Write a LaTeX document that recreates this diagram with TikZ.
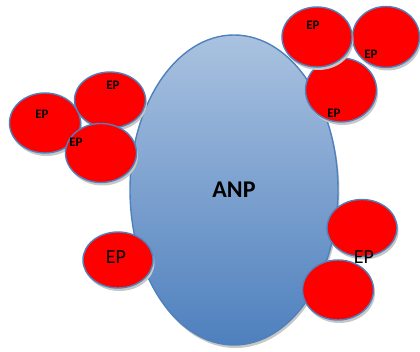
\documentclass[tikz,border=0pt]{standalone}
\usepackage{fontspec}
\setsansfont{Carlito}
\usetikzlibrary{shapes.geometric,shadows}
\definecolor{epblue}{RGB}{79,129,189}
\definecolor{anptop}{RGB}{170,194,224}
\definecolor{anpbot}{RGB}{78,128,190}
\begin{document}
\begin{tikzpicture}[x=1pt,y=-1pt,
        ep/.style={ellipse, draw=epblue, line width=1.4pt, fill=red, inner sep=0pt,
            drop shadow={shadow xshift=1.5pt, shadow yshift=-3pt, fill=black!22, opacity=1}},
        anp/.style={ellipse, draw=epblue, line width=1.4pt, inner sep=0pt,
            top color=anptop, bottom color=anpbot,
            drop shadow={shadow xshift=1.5pt, shadow yshift=-3pt, fill=black!22, opacity=1}},
        epbold/.style={font=\sffamily\bfseries\fontsize{13}{13}\selectfont, inner sep=0pt},
        epplain/.style={font=\sffamily\fontsize{20}{20}\selectfont, inner sep=0pt},
    ]
    \useasboundingbox (0,0) rectangle (420,352);
    \node[anp, minimum width=208pt, minimum height=310pt] (anp) at (234,190) {};
    \node[font=\sffamily\bfseries\fontsize{24}{24}\selectfont, inner sep=0pt] (anpt) at (234,190) {ANP};

    % left group
    \node[ep, minimum width=71pt, minimum height=60pt] (ep_a) at (45,123) {};
    \node[ep, minimum width=71pt, minimum height=56pt] (ep_b) at (110,100) {};
    \node[ep, minimum width=71pt, minimum height=59pt] (ep_c) at (101,153) {};
    \node[epbold] (t_a) at (42,114) {EP};
    \node[epbold] (t_b) at (113,85) {EP};
    \node[epbold] (t_c) at (76,142) {EP};

    % top right group
    \node[ep, minimum width=67pt, minimum height=61pt] (ep_e) at (386,37) {};
    \node[ep, minimum width=71pt, minimum height=64pt] (ep_f) at (341,90) {};
    \node[ep, minimum width=70pt, minimum height=60pt] (ep_d) at (317,37) {};
    \node[epbold] (t_d) at (313,25) {EP};
    \node[epbold] (t_e) at (371,54) {EP};
    \node[epbold] (t_f) at (334,113) {EP};

    % bottom
    \node[ep, minimum width=70pt, minimum height=57pt] (ep_g) at (362,228) {};
    \node[ep, minimum width=71pt, minimum height=60pt] (ep_h) at (338,290) {};
    \node[ep, minimum width=70pt, minimum height=56pt] (ep_i) at (118,260) {};
    \node[epplain] (t_g) at (364,257) {EP};
    \node[epplain] (t_i) at (116,257) {EP};
\end{tikzpicture}
\end{document}
